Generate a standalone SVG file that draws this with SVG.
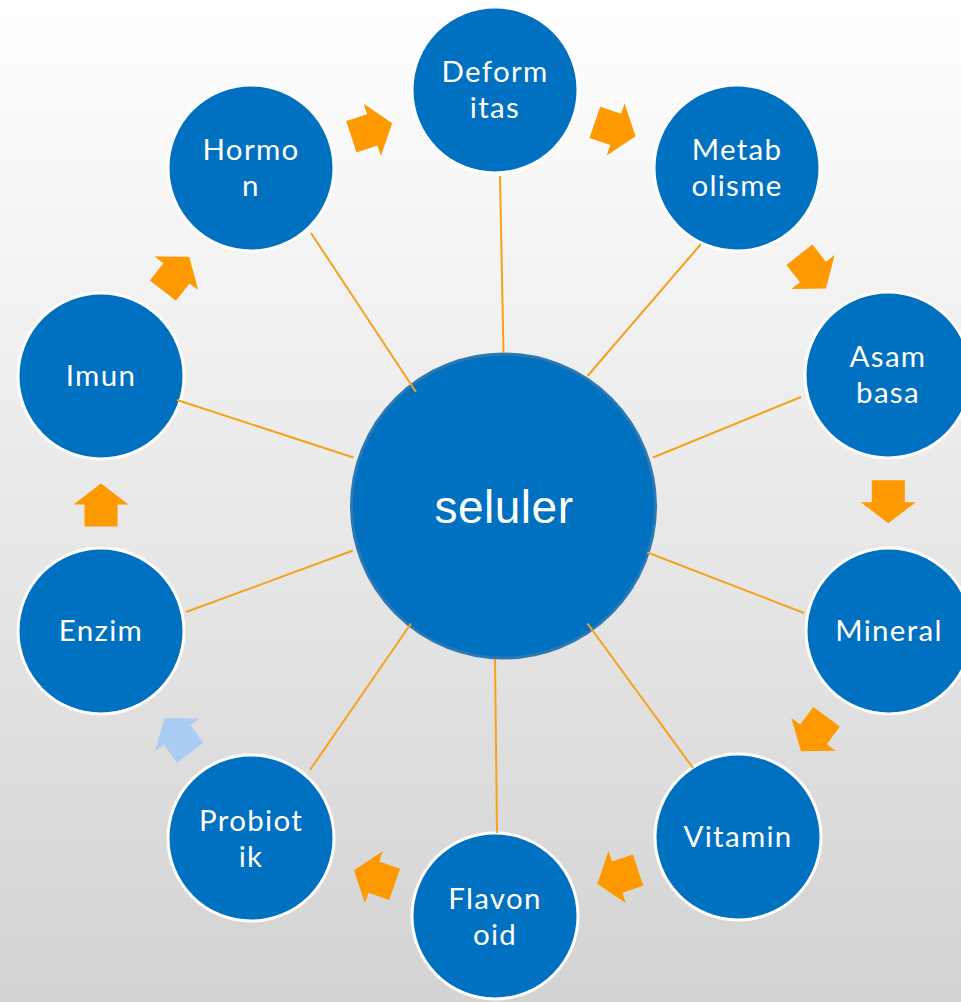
<svg xmlns="http://www.w3.org/2000/svg" width="961" height="1002" viewBox="0 0 961 1002">
  <defs>
    <linearGradient id="bg" x1="0" y1="0" x2="0" y2="1">
      <stop offset="0" stop-color="#ffffff"/>
      <stop offset="1" stop-color="#d3d3d3"/>
    </linearGradient>
    <!-- block arrow pointing along +x, centred on the origin -->
    <polygon id="blockArrow" points="-21.5,-16.5 0.5,-16.5 0.5,-27.5 21.5,0 0.5,27.5 0.5,16.5 -21.5,16.5"/>
    <style>
      .node { fill: #0070c0; stroke: #ffffff; stroke-width: 3; }
      .hub { fill: #0070c0; stroke: #2a78b4; stroke-width: 3; }
      .label { fill: #ffffff; font-family: Lato, "Open Sans", sans-serif; font-size: 29.5px; text-anchor: middle; letter-spacing: 1.3px; }
      .hub-label { fill: #ffffff; font-family: "Liberation Sans", Arial, sans-serif; font-size: 46px; text-anchor: middle; letter-spacing: 0.5px; }
      .spoke { stroke: #f7a11a; stroke-width: 2; fill: none; }
      .step { fill: #ff9900; }
      .step-soft { fill: #abcdf3; }
    </style>
  </defs>

  <rect width="961" height="1002" fill="url(#bg)"/>

  <!-- central hub -->
  <g id="node-seluler">
    <circle class="hub" cx="503.5" cy="506" r="152"/>
    <text class="hub-label" x="504" y="523">seluler</text>
  </g>

  <!-- surrounding nodes -->
  <g id="node-deformitas">
    <circle class="node" cx="495" cy="90" r="83"/>
    <text class="label" x="495" y="82">Deform</text>
    <text class="label" x="495" y="118">itas</text>
  </g>
  <g id="node-metabolisme">
    <circle class="node" cx="737" cy="168" r="83"/>
    <text class="label" x="737" y="160">Metab</text>
    <text class="label" x="737" y="196">olisme</text>
  </g>
  <g id="node-asam-basa">
    <circle class="node" cx="888" cy="375" r="83"/>
    <text class="label" x="888" y="367">Asam</text>
    <text class="label" x="888" y="403">basa</text>
  </g>
  <g id="node-mineral">
    <circle class="node" cx="889" cy="631" r="83"/>
    <text class="label" x="889" y="641">Mineral</text>
  </g>
  <g id="node-vitamin">
    <circle class="node" cx="738" cy="837" r="83"/>
    <text class="label" x="738" y="847">Vitamin</text>
  </g>
  <g id="node-flavonoid">
    <circle class="node" cx="495" cy="916" r="83"/>
    <text class="label" x="495" y="909">Flavon</text>
    <text class="label" x="495" y="945">oid</text>
  </g>
  <g id="node-probiotik">
    <circle class="node" cx="251" cy="838" r="83"/>
    <text class="label" x="251" y="831">Probiot</text>
    <text class="label" x="251" y="867">ik</text>
  </g>
  <g id="node-enzim">
    <circle class="node" cx="101" cy="631" r="83"/>
    <text class="label" x="101" y="641">Enzim</text>
  </g>
  <g id="node-imun">
    <circle class="node" cx="101" cy="376" r="83"/>
    <text class="label" x="101" y="386">Imun</text>
  </g>
  <g id="node-hormon">
    <circle class="node" cx="251" cy="168" r="83"/>
    <text class="label" x="251" y="160">Hormo</text>
    <text class="label" x="251" y="196">n</text>
  </g>

  <!-- spokes from hub to each node -->
  <g id="connectors">
    <line class="spoke" x1="311" y1="233" x2="416" y2="392"/>
    <line class="spoke" x1="500" y1="176" x2="503.5" y2="353"/>
    <line class="spoke" x1="701" y1="244" x2="587.5" y2="376"/>
    <line class="spoke" x1="801" y1="397" x2="653" y2="457.5"/>
    <line class="spoke" x1="804" y1="613" x2="647.5" y2="552.5"/>
    <line class="spoke" x1="693" y1="768" x2="587.5" y2="623.5"/>
    <line class="spoke" x1="497" y1="833" x2="495" y2="659"/>
    <line class="spoke" x1="310" y1="770" x2="411" y2="623.5"/>
    <line class="spoke" x1="186" y1="612" x2="353" y2="550.5"/>
    <line class="spoke" x1="177" y1="400" x2="353.5" y2="457.5"/>

    <!-- cycle arrows around the ring -->
    <use href="#blockArrow" class="step" transform="translate(371.8,130) rotate(-18.2)"/>
    <use href="#blockArrow" class="step" transform="translate(615.2,129.3) rotate(18.9)"/>
    <use href="#blockArrow" class="step" transform="translate(812.7,271.6) rotate(51.7)"/>
    <use href="#blockArrow" class="step" transform="translate(888.3,501.7) rotate(90)"/>
    <use href="#blockArrow" class="step" transform="translate(813.8,734) rotate(126.5)"/>
    <use href="#blockArrow" class="step" transform="translate(617.7,877) rotate(161.6)"/>
    <use href="#blockArrow" class="step" transform="translate(374.3,877.3) rotate(-160.9)"/>
    <use href="#blockArrow" class="step-soft" transform="translate(177.4,735.3) rotate(-126.7)"/>
    <use href="#blockArrow" class="step" transform="translate(101,505) rotate(-90)"/>
    <use href="#blockArrow" class="step" transform="translate(176.1,273.7) rotate(-52.3)"/>
  </g>
</svg>
